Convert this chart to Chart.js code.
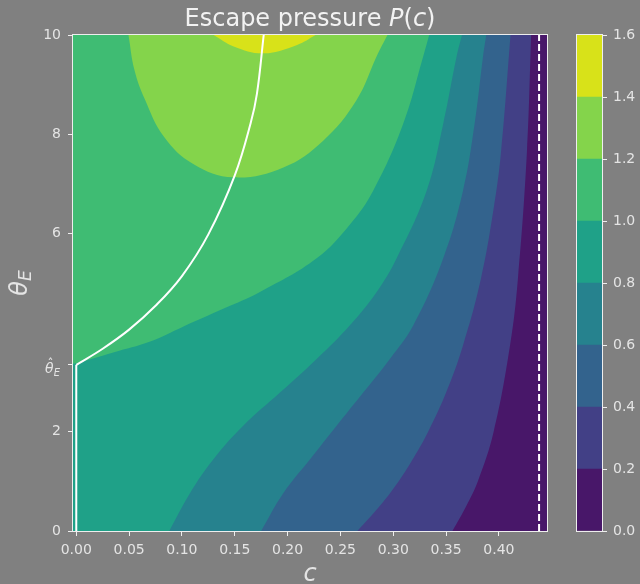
<!DOCTYPE html>
<html>
<head>
<meta charset="utf-8">
<title>Escape pressure P(c)</title>
<script src="https://cdn.jsdelivr.net/npm/chart.js@4"></script>
<style>
  html, body { margin: 0; padding: 0; background: #808080; }
  #wrap { position: relative; width: 640px; height: 584px; }
  #main { position: absolute; left: 0; top: 0; }
  #bar { position: absolute; left: 560px; top: 0; }
</style>
</head>
<body>
<div id="wrap">
  <canvas id="main" width="640" height="584"></canvas>
  <canvas id="bar" width="80" height="584"></canvas>
</div>
<script>
// axis ranges and ticks
const X_MIN = -0.0031, X_MAX = 0.4455;
const Y_MIN = 0, Y_MAX = 10;
const X_TICKS = [0, 0.05, 0.10, 0.15, 0.20, 0.25, 0.30, 0.35, 0.40];
const THETA_HAT = 3.35;
const Y_TICKS = [0, 2, THETA_HAT, 6, 8, 10];

// contour levels and band colours (viridis)
const LEVELS = [0, 0.2, 0.4, 0.6, 0.8, 1.0, 1.2, 1.4, 1.6];
const BAND_COLORS = ['#481769', '#424086', '#33638d', '#26828e', '#1fa188', '#3fbc73', '#84d44b', '#d8e219'];

// contour lines, [c, theta_E]
const P02 = [[0.356, 0], [0.369, 0.5], [0.380, 1.0], [0.395, 2.0], [0.4105, 3.74], [0.418, 5.09], [0.4265, 7.64], [0.4305, 10]];
const P04 = [[0.266, 0], [0.287, 0.5], [0.305, 1.0], [0.320, 1.5], [0.333, 2.0], [0.350, 2.79], [0.366, 3.74], [0.383, 5.09], [0.395, 6.5], [0.402, 7.64], [0.411, 10]];
const P06 = [[0.175, 0], [0.1959, 0.76], [0.2211, 1.44], [0.2464, 2.12], [0.2716, 2.79], [0.2968, 3.47], [0.319, 4.15], [0.3473, 5.5], [0.366, 6.86], [0.377, 8.21], [0.385, 9.57], [0.388, 10]];
const P08 = [[0.088, 0], [0.1076, 0.76], [0.1296, 1.44], [0.158, 2.12], [0.1928, 2.79], [0.2275, 3.47], [0.259, 4.15], [0.2843, 4.82], [0.3032, 5.5], [0.3316, 6.86], [0.3473, 8.21], [0.36, 9.57], [0.365, 10]];
const P10 = [[0, 3.38], [0.035, 3.6], [0.07, 3.82], [0.101, 4.12], [0.139, 4.48], [0.1738, 4.82], [0.2275, 5.5], [0.259, 6.18], [0.281, 6.86], [0.3094, 8.21], [0.3284, 9.57], [0.334, 10]];
const P12 = [[0.0494, 10], [0.055, 9.3], [0.065, 8.7], [0.083, 7.95], [0.1107, 7.4], [0.1486, 7.13], [0.196, 7.33], [0.2337, 7.87], [0.2653, 8.69], [0.2843, 9.57], [0.2945, 10]];
const P14 = [[0.130, 10], [0.149, 9.77], [0.1774, 9.63], [0.209, 9.8], [0.2265, 10]];

// escape curve and limit
const ESCAPE_CURVE = [[0, THETA_HAT], [0.025, 3.675], [0.05, 4.06], [0.075, 4.54], [0.1, 5.14], [0.125, 5.98], [0.15, 7.17], [0.165, 8.22], [0.171, 8.82], [0.1774, 10]];
const C_LIMIT = 0.438;

const TEXT = '#e4e4e4';
const SPINE = '#eeeeee';
const FONT = "'DejaVu Sans', sans-serif";

const pts = arr => arr.map(p => ({x: p[0], y: p[1]}));

// region left of a line that runs from the bottom/left edge up to the top
function leftRegion(curve) {
  const first = curve[0], last = curve[curve.length - 1];
  return [[X_MIN, last[1]], [X_MIN, first[1]], first, ...curve, last];
}

function band(data, level, order, tension) {
  return {
    data: pts(data),
    fill: 'shape',
    backgroundColor: BAND_COLORS[level],
    borderColor: 'rgba(0,0,0,0)',
    borderWidth: 0,
    pointRadius: 0,
    tension: tension,
    order: order
  };
}

const datasets = [
  band([[X_MIN, Y_MAX], [X_MIN, Y_MIN], [X_MAX, Y_MIN], [X_MAX, Y_MAX]], 0, 20, 0),
  band(leftRegion(P02), 1, 17, 0.4),
  band(leftRegion(P04), 2, 16, 0.4),
  band(leftRegion(P06), 3, 15, 0.4),
  band(leftRegion(P08), 4, 14, 0.4),
  band(leftRegion(P10), 5, 13, 0.4),
  band(P12, 6, 12, 0.4),
  band(P14, 7, 11, 0.4),
  {
    data: pts([[0, Y_MIN], [0, THETA_HAT]]),
    fill: false, borderColor: '#ffffff', borderWidth: 2, pointRadius: 0, order: 1
  },
  {
    data: pts(ESCAPE_CURVE),
    fill: false, borderColor: '#ffffff', borderWidth: 2, pointRadius: 0, tension: 0.4, order: 1
  },
  {
    data: pts([[C_LIMIT, Y_MIN], [C_LIMIT, Y_MAX]]),
    fill: false, borderColor: '#ffffff', borderWidth: 2, borderDash: [7, 3], pointRadius: 0, order: 1
  }
];

function drawParts(ctx, parts, x, y) {
  // parts: [text, font]
  let cx = x;
  parts.forEach(([t, f]) => {
    ctx.font = f;
    ctx.fillText(t, cx, y);
    cx += ctx.measureText(t).width;
  });
}

function partsWidth(ctx, parts) {
  let w = 0;
  parts.forEach(([t, f]) => { ctx.font = f; w += ctx.measureText(t).width; });
  return w;
}

const textPlugin = {
  id: 'texts',
  afterDraw(chart) {
    const {ctx, chartArea: a} = chart;
    const cx = (a.left + a.right) / 2;
    ctx.save();

    // spines
    ctx.strokeStyle = SPINE;
    ctx.lineWidth = 1;
    ctx.strokeRect(a.left - 0.5, a.top - 0.5, a.right - a.left + 1, a.bottom - a.top + 1);

    ctx.fillStyle = '#f2f2f2';
    ctx.textAlign = 'left';
    ctx.textBaseline = 'alphabetic';

    // title
    const title = [
      ['Escape pressure ', '24px ' + FONT],
      ['P', 'italic 24px ' + FONT],
      ['(', '24px ' + FONT],
      ['c', 'italic 24px ' + FONT],
      [')', '24px ' + FONT]
    ];
    drawParts(ctx, title, cx - partsWidth(ctx, title) / 2, 26);

    // x label
    ctx.fillStyle = TEXT;
    ctx.font = 'italic 24px ' + FONT;
    ctx.textAlign = 'center';
    ctx.fillText('c', cx, 581);

    // y label, rotated
    ctx.save();
    ctx.translate(27, (a.top + a.bottom) / 2);
    ctx.rotate(-Math.PI / 2);
    ctx.textAlign = 'left';
    ctx.font = 'italic 24px ' + FONT;
    const wt = ctx.measureText('θ').width;
    ctx.font = 'italic 17px ' + FONT;
    const we = ctx.measureText('E').width;
    const x0 = -(wt + we) / 2;
    ctx.font = 'italic 24px ' + FONT;
    ctx.fillText('θ', x0, 0);
    ctx.font = 'italic 17px ' + FONT;
    ctx.fillText('E', x0 + wt, 4);
    ctx.restore();

    // theta hat tick label
    const yh = chart.scales.y.getPixelForValue(THETA_HAT);
    ctx.textAlign = 'left';
    ctx.font = 'italic 14px ' + FONT;
    const wth = ctx.measureText('θ').width;
    ctx.font = 'italic 10px ' + FONT;
    const weh = ctx.measureText('E').width;
    const xs = 60 - wth - weh;
    ctx.font = 'italic 14px ' + FONT;
    ctx.fillText('θ', xs, yh + 8);
    ctx.font = '12px ' + FONT;
    ctx.textAlign = 'center';
    ctx.fillText('ˆ', xs + wth / 2 + 1, yh + 3);
    ctx.textAlign = 'left';
    ctx.font = 'italic 10px ' + FONT;
    ctx.fillText('E', xs + wth, yh + 11);

    ctx.restore();
  }
};

const tickFont = {family: "'DejaVu Sans', sans-serif", size: 14};

new Chart('main', {
  type: 'line',
  data: {datasets: datasets},
  options: {
    responsive: false,
    animation: false,
    events: [],
    layout: {padding: {left: 0, right: 93, top: 35, bottom: 0}},
    plugins: {legend: {display: false}, tooltip: {enabled: false}},
    scales: {
      x: {
        type: 'linear',
        min: X_MIN,
        max: X_MAX,
        afterBuildTicks: scale => { scale.ticks = X_TICKS.map(v => ({value: v})); },
        afterFit: scale => { scale.height = 53; },
        ticks: {
          color: TEXT, font: tickFont, padding: 6, autoSkip: false, maxRotation: 0,
          callback: v => Number(v).toFixed(2)
        },
        grid: {display: true, drawOnChartArea: false, drawTicks: true, tickLength: 5, color: SPINE},
        border: {display: false}
      },
      y: {
        type: 'linear',
        min: Y_MIN,
        max: Y_MAX,
        afterBuildTicks: scale => { scale.ticks = Y_TICKS.map(v => ({value: v})); },
        afterFit: scale => { scale.width = 73; },
        ticks: {
          color: TEXT, font: tickFont, padding: 7, autoSkip: false,
          callback: v => (v === THETA_HAT ? '' : String(v))
        },
        grid: {display: true, drawOnChartArea: false, drawTicks: true, tickLength: 5, color: SPINE},
        border: {display: false}
      }
    }
  },
  plugins: [textPlugin]
});

// colour bar
const barOutline = {
  id: 'outline',
  afterDraw(chart) {
    const {ctx, chartArea: a} = chart;
    ctx.save();
    ctx.strokeStyle = SPINE;
    ctx.lineWidth = 1;
    ctx.strokeRect(a.left - 0.5, a.top - 0.5, a.right - a.left + 1, a.bottom - a.top + 1);
    ctx.restore();
  }
};

new Chart('bar', {
  type: 'bar',
  data: {
    labels: ['P'],
    datasets: BAND_COLORS.map((col, i) => ({
      data: [[LEVELS[i], LEVELS[i + 1]]],
      backgroundColor: col,
      borderWidth: 0,
      barPercentage: 1,
      categoryPercentage: 1,
      grouped: false
    }))
  },
  options: {
    responsive: false,
    animation: false,
    events: [],
    layout: {padding: {left: 17, right: 0, top: 35, bottom: 53}},
    plugins: {legend: {display: false}, tooltip: {enabled: false}},
    scales: {
      x: {display: false},
      y: {
        position: 'right',
        min: 0,
        max: 1.6,
        afterBuildTicks: scale => { scale.ticks = LEVELS.map(v => ({value: v})); },
        afterFit: scale => { scale.width = 38; },
        ticks: {color: TEXT, font: tickFont, padding: 6, callback: v => Number(v).toFixed(1)},
        grid: {display: true, drawOnChartArea: false, drawTicks: true, tickLength: 5, color: SPINE},
        border: {display: false}
      }
    }
  },
  plugins: [barOutline]
});
</script>
</body>
</html>
